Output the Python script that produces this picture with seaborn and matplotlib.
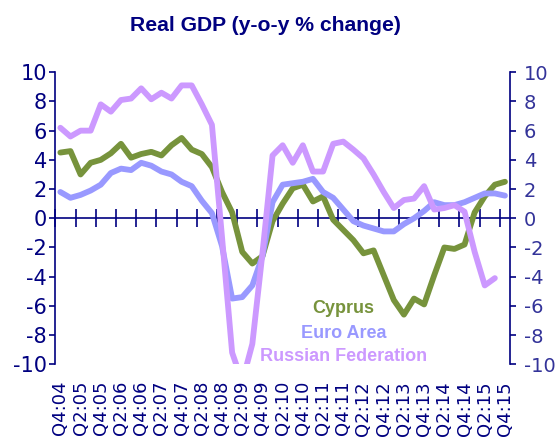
import numpy as np
import pandas as pd
import matplotlib
matplotlib.use("Agg")
import matplotlib.pyplot as plt
import seaborn as sns
from matplotlib import font_manager

# ---------------- data ----------------
tick_labels = ["Q4:04", "Q2:05", "Q4:05", "Q2:06", "Q4:06", "Q2:07", "Q4:07", "Q2:08",
               "Q4:08", "Q2:09", "Q4:09", "Q2:10", "Q4:10", "Q2:11", "Q4:11", "Q2:12",
               "Q4:12", "Q2:13", "Q4:13", "Q2:14", "Q4:14", "Q2:15", "Q4:15"]

cyprus = [4.5, 4.6, 3.0, 3.8, 4.0, 4.45, 5.1, 4.15, 4.4, 4.55, 4.3, 5.0, 5.5, 4.7, 4.4,
          3.5, 1.8, 0.4, -2.3, -3.1, -2.6, -0.2, 1.0, 2.05, 2.3, 1.15, 1.5, -0.1, -0.8,
          -1.5, -2.4, -2.2, -3.9, -5.6, -6.6, -5.5, -5.9, -3.9, -2.0, -2.1, -1.8, 0.4,
          1.5, 2.3, 2.5]
euro_area = [1.8, 1.4, 1.6, 1.9, 2.3, 3.1, 3.4, 3.3, 3.8, 3.6, 3.2, 3.0, 2.5, 2.2, 1.2,
             0.35, -1.9, -5.5, -5.4, -4.6, -2.6, 1.1, 2.3, 2.4, 2.5, 2.7, 1.8, 1.4, 0.6,
             -0.2, -0.5, -0.7, -0.9, -0.9, -0.4, 0.0, 0.5, 1.1, 0.9, 0.9, 1.1, 1.4, 1.7,
             1.7, 1.55]
russia = [6.2, 5.6, 6.0, 6.0, 7.8, 7.3, 8.1, 8.2, 8.9, 8.15, 8.6, 8.2, 9.1, 9.1, 7.8,
          6.4, -1.3, -9.2, -11.2, -8.6, -2.4, 4.3, 5.0, 3.8, 5.0, 3.2, 3.2, 5.1, 5.25,
          4.7, 4.1, 3.0, 1.8, 0.7, 1.25, 1.35, 2.2, 0.6, 0.7, 0.9, 0.45, -2.3, -4.6,
          -4.1, np.nan]

series_names = ["Cyprus", "Euro Area", "Russian Federation"]
colors = ["#77933C", "#9999FF", "#CC99FF"]

# ---------------- style ----------------
sns.set_style("white")
names = {f.name for f in font_manager.fontManager.ttflist}
plt.rcParams["font.family"] = ["DejaVu Sans"]
if "Liberation Sans Narrow" in names:
    title_font, title_size = "Liberation Sans Narrow", 16.8
else:
    title_font, title_size = "Liberation Sans", 15.2
navy = "#000080"
right_col = "#333399"

n = len(cyprus)
df = pd.DataFrame({"q": np.arange(n), "Cyprus": cyprus, "Euro Area": euro_area,
                   "Russian Federation": russia})
long = df.melt(id_vars="q", var_name="series", value_name="value").dropna()

fig = plt.figure(figsize=(5.58, 4.43), dpi=100)
ax = fig.add_axes([0.0991, 0.1777, 0.8149, 0.6592])

sns.lineplot(data=long, x="q", y="value", hue="series", hue_order=series_names,
             palette=colors, linewidth=4.2, estimator=None, sort=False,
             legend=False, ax=ax)
for ln in ax.get_lines():
    ln.set_solid_joinstyle("round")
    ln.set_solid_capstyle("round")

ax.set_xlim(-0.5, n - 0.5)
ax.set_ylim(-10, 10)
ax.set_xlabel("")
ax.set_ylabel("")

# category labels at bottom
ax.set_xticks(np.arange(0, n, 2))
ax.set_xticklabels(tick_labels, rotation=90, fontsize=13, color=navy)
ax.tick_params(axis="x", length=0, pad=12)

# left y axis
ax.set_yticks(np.arange(-10, 11, 2))
ax.set_yticklabels([str(v) for v in range(-10, 11, 2)])
ax.tick_params(axis="y", direction="out", length=4, width=1.2, color=navy,
               labelcolor=navy, labelsize=15, pad=2)
for s in ["top", "bottom", "right"]:
    ax.spines[s].set_visible(False)
ax.spines["left"].set_color(navy)
ax.spines["left"].set_linewidth(1.2)

# right y axis
ax2 = ax.twinx()
ax2.set_ylim(-10, 10)
ax2.set_yticks(np.arange(-10, 11, 2))
ax2.set_yticklabels([str(v) for v in range(-10, 11, 2)])
ax2.tick_params(axis="y", direction="out", length=4, width=1.2, color=navy,
                labelcolor=right_col, labelsize=14, pad=6)
for s in ["top", "bottom", "left"]:
    ax2.spines[s].set_visible(False)
ax2.spines["right"].set_color(navy)
ax2.spines["right"].set_linewidth(1.2)

# zero line with crossing tick marks between category pairs
sec = ax.secondary_xaxis(0.5)
sec.set_xticks(np.arange(-0.5, n - 1, 2))
sec.tick_params(axis="x", direction="inout", length=13, width=1.2, color=navy,
                labelbottom=False, labeltop=False)
for s in ["top", "bottom"]:
    sec.spines[s].set_color(navy)
    sec.spines[s].set_linewidth(1.2)

# in-plot series labels
label_y = [-6.2, -7.9, -9.45]
for name, col, yy in zip(series_names, colors, label_y):
    ax.text(28.0, yy, name, color=col, ha="center", va="center", fontsize=13,
            fontweight="bold", family="Liberation Sans")

fig.text(0.476, 0.942, "Real GDP (y-o-y % change)", ha="center", va="center",
         fontsize=title_size, fontweight="bold", color=navy, family=title_font)

fig.savefig("out.png", dpi=100)
